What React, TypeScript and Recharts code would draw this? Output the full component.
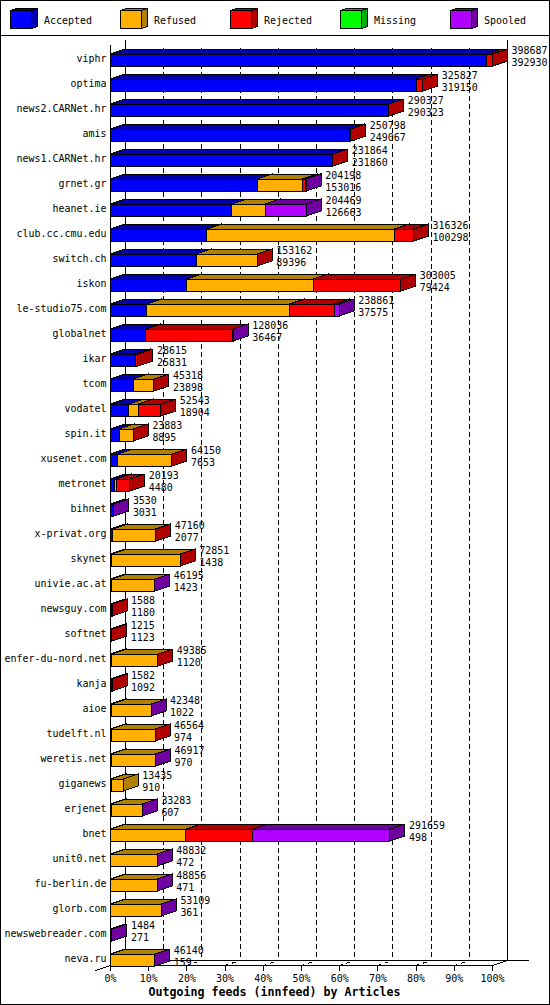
import React from 'react';
import { BarChart, Bar, XAxis, YAxis, CartesianGrid, Legend } from 'recharts';

const hosts = ['viphr','optima','news2.CARNet.hr','amis','news1.CARNet.hr','grnet.gr','heanet.ie','club.cc.cmu.edu','switch.ch','iskon','le-studio75.com','globalnet','ikar','tcom','vodatel','spin.it','xusenet.com','metronet','bihnet','x-privat.org','skynet','univie.ac.at','newsguy.com','softnet','enfer-du-nord.net','kanja','aioe','tudelft.nl','weretis.net','giganews','erjenet','bnet','unit0.net','fu-berlin.de','glorb.com','newswebreader.com','neva.ru'];
const offered = [398687,325827,290327,250798,231864,204198,204469,316326,153162,303005,238861,128036,28615,45318,52543,23883,64150,20193,3530,47160,72851,46195,1588,1215,49385,1582,42348,46564,46917,13435,33283,291659,48832,48856,53109,1484,46140];
const accepted = [392930,319150,290323,249067,231860,153016,126663,100298,89396,79424,37575,36467,25831,23898,18904,8895,7653,4480,3031,2077,1438,1423,1180,1123,1120,1092,1022,974,970,910,607,498,472,471,361,271,159];
const refused = [0,0,0,0,0,47000,34800,195800,63700,132100,149250,0,0,21300,10000,14900,56400,1500,0,45000,71300,44700,0,0,48200,0,41250,45500,45850,12525,32600,78000,48300,48320,52680,0,45900];
const rejected = [5757,6677,4,1731,4,3500,0,20228,66,91481,46966,91000,2784,120,23639,88,97,14213,0,83,113,0,408,92,65,490,0,90,0,0,0,70000,0,0,0,0,0];
const missing = new Array(37).fill(0);
const spooled = [0,0,0,0,0,682,43006,0,0,0,5070,569,0,0,0,0,0,0,499,0,0,72,0,0,0,0,76,0,97,0,76,143161,60,65,68,1213,81];

const seriesKeys = ['accepted','refused','rejected','missing','spooled'];
const seriesNames = ['Accepted','Refused','Rejected','Missing','Spooled'];
const frontColors = ['#0000ff','#ffb000','#ff0000','#00ff00','#b000ff'];
const darkColors = ['#0000b0','#b08000','#b00000','#00b000','#7000a0'];
const percentTicks = [0,10,20,30,40,50,60,70,80,90,100];

const maxValue = offered[0];
const tickValues = percentTicks.map((p) => (p * maxValue) / 100);
const rows = hosts.map((host, i) => ({
  host,
  accepted: accepted[i],
  refused: refused[i],
  rejected: rejected[i],
  missing: missing[i],
  spooled: spooled[i],
  offered: offered[i],
}));

const MONO = '"DejaVu Sans Mono", monospace';
const DX = 15;
const DY = 5;
const FRONT_H = 12;
const FLOOR_Y = 965.5;
const BACK_Y = 960.5;

function Label({ x, y, anchor, children }: any) {
  const s = String(children);
  return (
    <text x={x} y={y} textAnchor={anchor} fontFamily={MONO} fontSize={11} fill="#000" textLength={s.length * 6} lengthAdjust="spacingAndGlyphs">
      {s}
    </text>
  );
}

function Box({ x, y, w, h, i }: any) {
  return (
    <g stroke="#000" strokeWidth={1} shapeRendering="crispEdges">
      <polygon points={`${x},${y} ${x + DX},${y - DY} ${x + w + DX},${y - DY} ${x + w},${y}`} fill={darkColors[i]} />
      <polygon points={`${x + w},${y} ${x + w + DX},${y - DY} ${x + w + DX},${y + h - DY} ${x + w},${y + h}`} fill={darkColors[i]} />
      <rect x={x} y={y} width={w} height={h} fill={frontColors[i]} />
    </g>
  );
}

const makeShape = (i: number) => (props: any) => {
  const { x, y, width, height, payload } = props;
  const isLast = i === seriesKeys.length - 1;
  const val = payload[seriesKeys[i]];
  return (
    <g>
      {val > 0 ? <Box x={x} y={y} w={width} h={height} i={i} /> : null}
      {isLast ? (
        <g>
          <Label x={x + width + DX + 4} y={y + 0.25}>{payload.offered}</Label>
          <Label x={x + width + DX + 4} y={y + 11.5}>{payload.accepted}</Label>
        </g>
      ) : null}
    </g>
  );
};

function GridLine(props: any) {
  const { x1, index } = props;
  const last = percentTicks.length - 1;
  const bx = x1 + DX;
  const fx = x1;
  return (
    <g shapeRendering="crispEdges" fill="none" stroke="#000">
      {index === 0 ? (
        <>
          <line x1={bx} y1={40} x2={bx} y2={BACK_Y} />
          <line x1={fx} y1={45} x2={fx} y2={FLOOR_Y} />
          <line x1={fx} y1={FLOOR_Y} x2={fx + 382} y2={FLOOR_Y} />
          <line x1={bx} y1={BACK_Y} x2={528.5} y2={BACK_Y} />
          <line x1={fx - DX} y1={FLOOR_Y + DY} x2={bx} y2={BACK_Y} />
        </>
      ) : index === last ? (
        <>
          <line x1={bx} y1={40} x2={bx} y2={BACK_Y} />
          <line x1={fx} y1={FLOOR_Y} x2={bx} y2={BACK_Y} />
        </>
      ) : (
        <>
          <line x1={bx} y1={957} x2={bx} y2={48} strokeDasharray="5 3" />
          <line x1={fx} y1={FLOOR_Y} x2={bx} y2={BACK_Y} strokeDasharray="3 4 4 4" />
        </>
      )}
    </g>
  );
}

function XTick({ x, payload }: any) {
  const pct = Math.round((payload.value / maxValue) * 100);
  return (
    <g>
      <line x1={x} y1={FLOOR_Y} x2={x} y2={FLOOR_Y + 5} stroke="#000" shapeRendering="crispEdges" />
      <Label x={x} y={981.5} anchor="middle">{`${pct}%`}</Label>
    </g>
  );
}

function YTick({ y, payload }: any) {
  return <Label x={106.5} y={y + 2.5} anchor="end">{payload.value}</Label>;
}

function LegendContent() {
  return (
    <svg width={550} height={35} style={{ display: 'block' }}>
      {seriesNames.map((name, i) => {
        const x = 10.5 + i * 110;
        return (
          <g key={name}>
            <g stroke="#000" shapeRendering="crispEdges">
              <polygon points={`${x},10.5 ${x + 6},8.5 ${x + 27},8.5 ${x + 21},10.5`} fill={darkColors[i]} />
              <polygon points={`${x + 21},10.5 ${x + 27},8.5 ${x + 27},26.5 ${x + 21},28.5`} fill={darkColors[i]} />
              <rect x={x} y={10.5} width={21} height={18} fill={frontColors[i]} />
            </g>
            <Label x={x + 33.5} y={24}>{name}</Label>
          </g>
        );
      })}
    </svg>
  );
}

export default function App() {
  const title = 'Outgoing feeds (innfeed) by Articles';
  return (
    <div style={{ position: 'absolute', left: 0, top: 0, width: 550, height: 1005, background: '#fff', overflow: 'hidden' }}>
      <svg width={550} height={1005} style={{ position: 'absolute', left: 0, top: 0 }}>
        <rect x={0.5} y={0.5} width={549} height={1004} fill="#fff" stroke="#000" shapeRendering="crispEdges" />
        <line x1={0} y1={35.5} x2={550} y2={35.5} stroke="#000" shapeRendering="crispEdges" />
      </svg>
      <div style={{ position: 'absolute', left: 0, top: 0 }}>
        <BarChart
          width={550}
          height={1005}
          data={rows}
          layout="vertical"
          barSize={FRONT_H}
          margin={{ top: 47, right: 57.5, bottom: 0, left: 0 }}
        >
          <CartesianGrid
            horizontal={false}
            vertical={(p: any) => <GridLine {...p} key={p.index} />}
            verticalCoordinatesGenerator={({ offset }: any) => tickValues.map((v) => offset.left + (v / maxValue) * offset.width)}
          />
          <XAxis
            type="number"
            domain={[0, maxValue]}
            ticks={tickValues}
            interval={0}
            height={33}
            axisLine={false}
            tickLine={false}
            tick={<XTick />}
          />
          <YAxis
            type="category"
            dataKey="host"
            width={110.5}
            interval={0}
            axisLine={false}
            tickLine={false}
            tick={<YTick />}
          />
          <Legend
            verticalAlign="middle"
            align="center"
            content={<LegendContent />}
            wrapperStyle={{ top: 0, left: 0, width: 550, height: 35 }}
          />
          {seriesKeys.map((k, i) => (
            <Bar
              key={k}
              dataKey={k}
              name={seriesNames[i]}
              stackId="feeds"
              fill={frontColors[i]}
              isAnimationActive={false}
              shape={makeShape(i)}
            />
          ))}
          <text x={274.5} y={996} textAnchor="middle" fontFamily={MONO} fontWeight="bold" fontSize={12} fill="#000" textLength={title.length * 7} lengthAdjust="spacingAndGlyphs">
            {title}
          </text>
        </BarChart>
      </div>
    </div>
  );
}
